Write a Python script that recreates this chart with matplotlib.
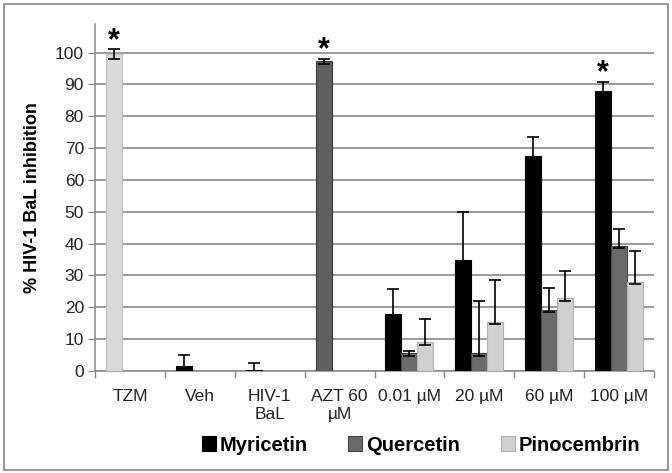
import numpy as np
import matplotlib.pyplot as plt
from matplotlib.patches import Rectangle

plt.rcParams['font.family'] = ['Liberation Sans', 'DejaVu Sans']

# categories
categories = ['TZM', 'Veh', 'HIV-1\nBaL', 'AZT 60\nµM', '0.01 µM', '20 µM', '60 µM', '100 µM']

# controls (single bars, drawn in the left slot)
ctrl_idx = [0, 1, 2, 3]
ctrl_vals = [99.5, 1.6, 0.4, 97.3]
ctrl_err = [1.5, 3.5, 2.2, 0.8]
ctrl_colors = ['#d9d9d9', '#000000', '#000000', '#5f5f5f']
ctrl_edges = ['#c4c4c4', '#000000', '#000000', '#3a3a3a']

# compound series at 4 doses (upper error only)
dose_idx = [4, 5, 6, 7]
myricetin = [17.8, 35.0, 67.6, 88.0]
myricetin_err = [8.0, 15.0, 5.8, 2.8]
quercetin = [5.5, 5.5, 19.3, 39.3]
quercetin_err = [0.8, 16.6, 6.8, 5.3]
pinocembrin = [9.0, 15.5, 22.8, 28.0]
pinocembrin_err = [7.3, 13.0, 8.7, 9.8]

star_idx = [0, 3, 7]
star_vals = [101.0, 98.1, 90.8]

fig = plt.figure(figsize=(6.72, 4.73), dpi=100)
ax = fig.add_axes([95/672, 1-371/473, (654-95)/672, (371-24)/473])

w = 16/70
ek = dict(ecolor='black', elinewidth=1.2, capsize=4, capthick=1.2)

ax.bar(np.array(ctrl_idx) - w, ctrl_vals, w, color=ctrl_colors,
       edgecolor=ctrl_edges, linewidth=0.8, yerr=ctrl_err, error_kw=ek, zorder=3)

series = [
    ('Myricetin', myricetin, myricetin_err, '#000000', '#000000', -w),
    ('Quercetin', quercetin, quercetin_err, '#6a6a6a', '#444444', 0),
    ('Pinocembrin', pinocembrin, pinocembrin_err, '#d0d0d0', '#b0b0b0', w),
]
for name, vals, err, col, edge, off in series:
    yerr = [np.zeros(len(err)) + 0.7, err]
    ax.bar(np.array(dose_idx) + off, vals, w, color=col, edgecolor=edge,
           linewidth=0.8, yerr=yerr, error_kw=ek, zorder=3, label=name)

# significance asterisks
xs = [i - w for i in star_idx]
for x, v in zip(xs, star_vals):
    ax.annotate('*', (x, v), xytext=(0, 0.5), textcoords='offset points',
                ha='center', va='baseline', fontsize=22, fontweight='bold')

ax.set_xlim(-0.5, len(categories) - 0.5)
ax.set_ylim(0, 109)
ax.set_yticks(np.arange(0, 101, 10))
ax.yaxis.grid(True, color='#8a8a8a', linewidth=1.2, zorder=0)
ax.set_axisbelow(True)

ax.set_xticks(np.arange(len(categories)))
ax.set_xticklabels(categories, fontsize=12.5, color='#222222', linespacing=1.25)
ax.set_xticks(np.arange(-0.5, len(categories)), minor=True)
ax.tick_params(axis='x', which='major', length=0, pad=13)
ax.tick_params(axis='x', which='minor', length=5, color='#888888', width=1)
ax.tick_params(axis='y', length=5, color='#888888', labelsize=12.5,
               labelcolor='#222222', pad=3)

for s in ['top', 'right']:
    ax.spines[s].set_visible(False)
ax.spines['left'].set_color('#888888')
ax.spines['bottom'].set_color('#888888')
ax.spines['left'].set_linewidth(1.1)
ax.spines['bottom'].set_linewidth(1.1)

ax.set_ylabel('% HIV-1 BaL inhibition', fontsize=13, fontweight='bold', labelpad=10)

leg = fig.legend(loc='center', bbox_to_anchor=(421/672, 1-445/473), ncol=3,
                 frameon=False, prop={'weight': 'bold', 'size': 14.5},
                 handlelength=0.7, handleheight=0.7, handletextpad=0.2,
                 columnspacing=2.0)

# outer frame
fig.patches.append(Rectangle((4/672, 3/473), 664/672, 466/473, fill=False,
                             edgecolor='#9a9a9a', linewidth=1.5,
                             transform=fig.transFigure))

fig.savefig('out.png', dpi=100)
